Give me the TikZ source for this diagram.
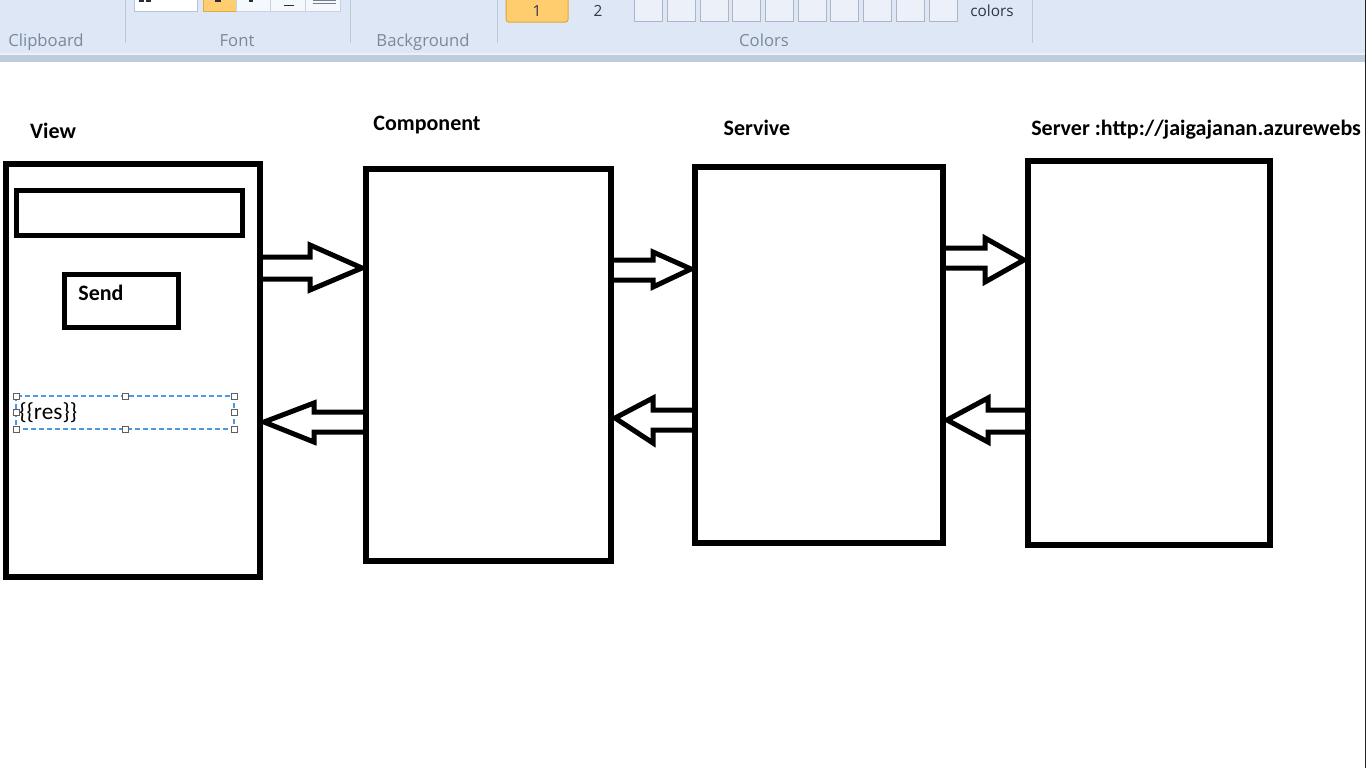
\documentclass[tikz,border=0pt]{standalone}
\usepackage{fontspec}
\setmainfont{Carlito}
\newfontfamily\uifont{Open Sans}

\begin{document}
\begin{tikzpicture}[x=0.75pt,y=0.75pt,yscale=-1,xscale=1,
	box/.style={draw=black, line width=4.5pt, outer sep=0pt, inner sep=0pt},
	blockarrow/.style={draw=black, line width=3.75pt},
	lbl/.style={font=\bfseries\fontsize{16.5}{20}\selectfont, inner sep=0pt},
	grouplbl/.style={font=\uifont\fontsize{12.5}{15}\selectfont, text={rgb, 255:red, 125; green, 135; blue, 155 }, inner sep=0pt, anchor=base},
	uitext/.style={font=\uifont\fontsize{11.5}{14}\selectfont, text={rgb, 255:red, 45; green, 55; blue, 75 }, inner sep=0pt},
	swatch/.style={draw={rgb, 255:red, 175; green, 182; blue, 195 }, fill={rgb, 255:red, 236; green, 241; blue, 249 }, line width=0.75pt},
	handle/.style={draw={rgb, 255:red, 95; green, 95; blue, 95 }, fill=white, line width=0.75pt}
	]
	\useasboundingbox (0,0) rectangle (1366,768);
	\clip (0,0) rectangle (1366,768);

	%Shape: Ribbon
	\fill [color={rgb, 255:red, 221; green, 231; blue, 245 }] (0,0) rectangle (1366,53) ;
	\fill [color={rgb, 255:red, 236; green, 241; blue, 249 }] (0,53) rectangle (1366,55) ;
	\fill [color={rgb, 255:red, 190; green, 203; blue, 220 }] (0,55) rectangle (1366,62) ;
	% group separators
	\draw [color={rgb, 255:red, 188; green, 199; blue, 215 }, line width=0.75pt] (125,0) -- (125,43) ;
	\draw [color={rgb, 255:red, 188; green, 199; blue, 215 }, line width=0.75pt] (350,0) -- (350,43) ;
	\draw [color={rgb, 255:red, 188; green, 199; blue, 215 }, line width=0.75pt] (497,0) -- (497,43) ;
	\draw [color={rgb, 255:red, 188; green, 199; blue, 215 }, line width=0.75pt] (1032,0) -- (1032,43) ;

	% Font group
	\draw [draw={rgb, 255:red, 180; green, 195; blue, 215 }, fill=white, line width=0.75pt] (134,-2) rectangle (197,11) ;
	\fill [color={rgb, 255:red, 40; green, 45; blue, 60 }] (139,-1) rectangle (144,2) ;
	\fill [color={rgb, 255:red, 40; green, 45; blue, 60 }] (146,-1) rectangle (151,2) ;
	\draw [draw={rgb, 255:red, 225; green, 170; blue, 70 }, fill={rgb, 255:red, 255; green, 206; blue, 112 }, line width=0.75pt] (203,-2) rectangle (236,11) ;
	\fill [color={rgb, 255:red, 40; green, 45; blue, 60 }] (215,-1) rectangle (221,2) ;
	\draw [draw={rgb, 255:red, 200; green, 210; blue, 225 }, fill={rgb, 255:red, 245; green, 248; blue, 252 }, line width=0.75pt] (236,-2) rectangle (270,11) ;
	\fill [color={rgb, 255:red, 40; green, 45; blue, 60 }] (249,-1) rectangle (253,2) ;
	\draw [draw={rgb, 255:red, 200; green, 210; blue, 225 }, fill={rgb, 255:red, 245; green, 248; blue, 252 }, line width=0.75pt] (270,-2) rectangle (305,11) ;
	\fill [color={rgb, 255:red, 40; green, 45; blue, 60 }] (284,5) rectangle (294,6) ;
	\draw [draw={rgb, 255:red, 200; green, 210; blue, 225 }, fill={rgb, 255:red, 245; green, 248; blue, 252 }, line width=0.75pt] (305,-2) rectangle (340,11) ;
	\fill [color={rgb, 255:red, 120; green, 125; blue, 140 }] (313,-1) rectangle (336,1) ;
	\fill [color={rgb, 255:red, 120; green, 125; blue, 140 }] (313,2.5) rectangle (336,3.5) ;

	% Colors group
	\draw [draw={rgb, 255:red, 222; green, 165; blue, 65 }, fill={rgb, 255:red, 255; green, 204; blue, 110 }, line width=0.75pt, rounded corners=2pt] (506,-4) rectangle (568,22) ;
	\node [uitext] (colorone) at (537,11) {1};
	\node [uitext] (colortwo) at (598,11) {2};
	\draw [swatch] (634,-2) rectangle (662,21) ;
	\draw [swatch] (667,-2) rectangle (695,21) ;
	\draw [swatch] (700,-2) rectangle (728,21) ;
	\draw [swatch] (732,-2) rectangle (760,21) ;
	\draw [swatch] (765,-2) rectangle (793,21) ;
	\draw [swatch] (798,-2) rectangle (826,21) ;
	\draw [swatch] (830,-2) rectangle (858,21) ;
	\draw [swatch] (863,-2) rectangle (891,21) ;
	\draw [swatch] (896,-2) rectangle (924,21) ;
	\draw [swatch] (929,-2) rectangle (957,21) ;
	\node [uitext] (editcolors) at (992,11) {colors};

	% group names
	\node [grouplbl] (clipboard) at (46,46) {Clipboard};
	\node [grouplbl] (fontgrp) at (237,46) {Font};
	\node [grouplbl] (background) at (423,46) {Background};
	\node [grouplbl] (colorsgrp) at (764,46) {Colors};

	% window edge
	\draw [color={rgb, 255:red, 35; green, 35; blue, 35 }, line width=1.1pt] (1365.3,0) -- (1365.3,768) ;

	%Shape: Rectangle (view)
	\node [box, minimum width=190.5pt, minimum height=309.75pt] (view) at (133,370.5) {};
	%Shape: Rectangle (text input)
	\node [box, line width=3.75pt, minimum width=169.5pt, minimum height=33.75pt] (input) at (129,212.5) {};
	%Shape: Rectangle (send button)
	\node [box, line width=3.75pt, minimum width=85.5pt, minimum height=39.75pt] (sendbtn) at (121,300.5) {};
	\node [lbl] (sendlbl) at (101,293) {Send};

	%Shape: Selection around {{res}}
	\draw [color={rgb, 255:red, 74; green, 152; blue, 230 }, line width=0.9pt, dash pattern=on 3.5pt off 2.5pt] (16,396) rectangle (234,429) ;
	\draw [handle] (13,393) rectangle (19,399) ;
	\draw [handle] (122,393) rectangle (128,399) ;
	\draw [handle] (231,393) rectangle (237,399) ;
	\draw [handle] (13,409.5) rectangle (19,415.5) ;
	\draw [handle] (231,409.5) rectangle (237,415.5) ;
	\draw [handle] (13,426) rectangle (19,432) ;
	\draw [handle] (122,426) rectangle (128,432) ;
	\draw [handle] (231,426) rectangle (237,432) ;
	\node [font=\fontsize{17.5}{20}\selectfont, inner sep=0pt, anchor=west] (reslbl) at (19,413) {\{\{res\}\}};

	%Shape: Rectangle (component)
	\node [box, minimum width=183.75pt, minimum height=294pt] (component) at (488.5,365) {};
	%Shape: Rectangle (service)
	\node [box, minimum width=186pt, minimum height=282pt] (service) at (819,355) {};
	%Shape: Rectangle (server)
	\node [box, minimum width=181.5pt, minimum height=288pt] (server) at (1149,353) {};

	% titles
	\node [lbl] (viewlbl) at (53,131) {View};
	\node [lbl] (complbl) at (427,125) {Component};
	\node [lbl] (servlbl) at (757,128) {Servive};
	\node [lbl, anchor=west] (serverlbl) at (1031,130) {Server :http://jaigajanan.azurewebs};

	% View >
	\draw [blockarrow] (view.east |- 0,257) -- (310,257) -- (310,245) -- ([xshift=-3pt]component.west |- 0,268) -- (310,290) -- (310,279) -- (view.east |- 0,279) ;
	% Component <
	\draw [blockarrow] (component.west |- 0,412) -- (314,412) -- (314,403) -- ([xshift=3pt]view.east |- 0,422) -- (314,442) -- (314,432) -- (component.west |- 0,432) ;
	% Component >
	\draw [blockarrow] (component.east |- 0,260) -- (653,260) -- (653,252) -- ([xshift=-3pt]service.west |- 0,269) -- (653,287) -- (653,280) -- (component.east |- 0,280) ;
	% Service <
	\draw [blockarrow] (service.west |- 0,410) -- (653,410) -- (653,398) -- ([xshift=3pt]component.east |- 0,418) -- (653,443) -- (653,430) -- (service.west |- 0,430) ;
	% Service >
	\draw [blockarrow] (service.east |- 0,248) -- (985,248) -- (985,238) -- ([xshift=-3pt]server.west |- 0,260) -- (985,282) -- (985,268) -- (service.east |- 0,268) ;
	% Server <
	\draw [blockarrow] (server.west |- 0,410) -- (988,410) -- (988,398) -- ([xshift=3pt]service.east |- 0,420) -- (988,442) -- (988,432) -- (server.west |- 0,432) ;
\end{tikzpicture}
\end{document}
